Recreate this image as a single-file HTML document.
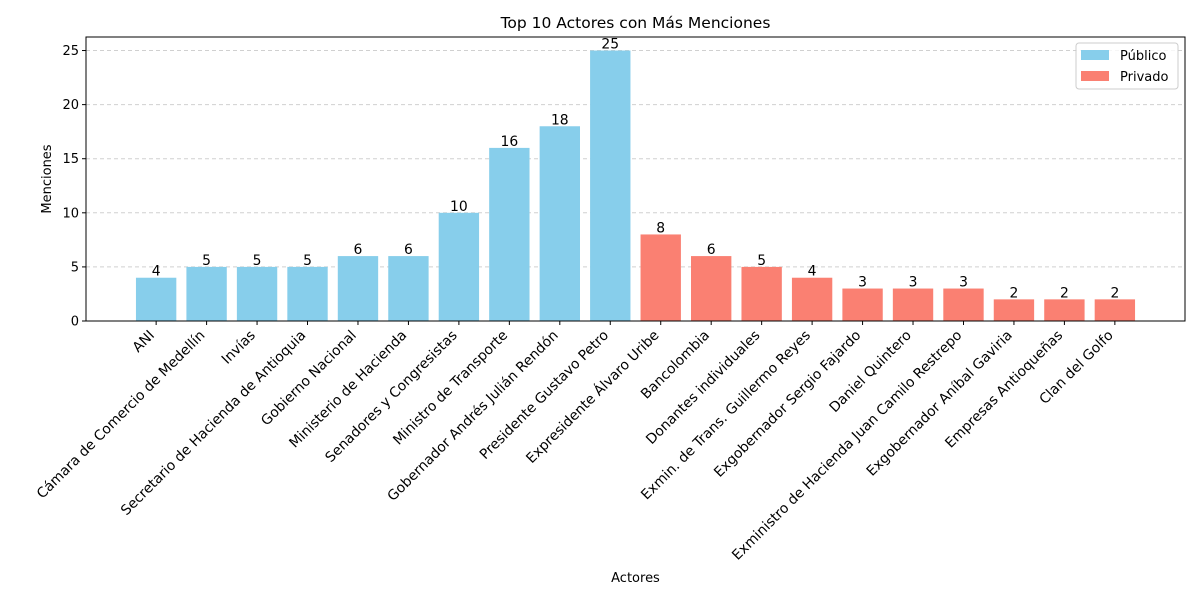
<!DOCTYPE html>
<html><head><meta charset="utf-8"><style>body{margin:0;background:#fff}svg{display:block;font-family:"DejaVu Sans","Liberation Sans",sans-serif}</style></head>
<body>
<svg id="chart" width="1200" height="600" xmlns="http://www.w3.org/2000/svg">
<rect width="1200" height="600" fill="#fff"/>
<text x="635.5" y="28" font-size="15.5" text-anchor="middle">Top 10 Actores con Más Menciones</text>
<g id="grid"></g><g id="bars"></g><g id="xt"></g><g id="yt"></g>
<rect x="86" y="37" width="1099" height="284" fill="none" stroke="#000" stroke-width="1"/>
<text transform="translate(51,179) rotate(-90)" font-size="13" text-anchor="middle">Menciones</text>
<text x="635.5" y="582" font-size="13" text-anchor="middle">Actores</text>
<g>
<rect x="1076" y="43" width="102" height="46" rx="3" fill="#fff" fill-opacity="0.8" stroke="#ccc"/>
<rect x="1081" y="50" width="28" height="10" fill="#87ceeb"/>
<text x="1120" y="60" font-size="13">Público</text>
<rect x="1081" y="71" width="28" height="10" fill="#fa8072"/>
<text x="1120" y="81" font-size="13">Privado</text>
</g>
</svg>
<script>
const categories=["ANI","Cámara de Comercio de Medellín","Invías","Secretario de Hacienda de Antioquia","Gobierno Nacional","Ministerio de Hacienda","Senadores y Congresistas","Ministro de Transporte","Gobernador Andrés Julián Rendón","Presidente Gustavo Petro","Expresidente Álvaro Uribe","Bancolombia","Donantes individuales","Exmin. de Trans. Guillermo Reyes","Exgobernador Sergio Fajardo","Daniel Quintero","Exministro de Hacienda Juan Camilo Restrepo","Exgobernador Aníbal Gaviria","Empresas Antioqueñas","Clan del Golfo"];
const values=[4,5,5,5,6,6,10,16,18,25,8,6,5,4,3,3,3,2,2,2];
const sectors=["Público","Público","Público","Público","Público","Público","Público","Público","Público","Público","Privado","Privado","Privado","Privado","Privado","Privado","Privado","Privado","Privado","Privado"];
const yTicks=[0,5,10,15,20,25];
const NS="http://www.w3.org/2000/svg";
const L=86,R=1185,T=37,B=321;
const n=categories.length;
const xmin=-0.4-0.05*(n-0.2),xmax=n-1+0.4+0.05*(n-0.2);
const x=i=>L+(i-xmin)/(xmax-xmin)*(R-L);
const ymax=25*1.05;
const y=v=>B-v/ymax*(B-T);
const bw=0.8*(R-L)/(xmax-xmin);
function mk(tag,attrs,parent,txt){const e=document.createElementNS(NS,tag);for(const k in attrs)e.setAttribute(k,attrs[k]);if(txt!==undefined)e.textContent=txt;document.getElementById(parent).appendChild(e);return e;}
yTicks.forEach(t=>{
 const g=mk('line',{x1:L,x2:R,y1:y(t),y2:y(t),stroke:'#b0b0b0','stroke-opacity':0.6,'stroke-dasharray':'4,3'},'grid');
 
 
 const tk=mk('line',{x1:L-4,x2:L,y1:y(t),y2:y(t),stroke:'#000'},'yt');
 
 
 const lb=mk('text',{x:L-7,y:y(t)+4.5,'font-size':13,'text-anchor':'end'},'yt',t);
 
 
});
categories.forEach((c,i)=>{
 const cx=x(i),v=values[i];
 const r=mk('rect',{x:cx-bw/2,y:y(v),width:bw,height:B-y(v),fill:sectors[i]==="Público"?'#87ceeb':'#fa8072'},'bars');
 
 
 const vl=mk('text',{x:cx,y:y(v)-2,'font-size':13.9,'text-anchor':'middle'},'bars',v);
 
 
 const tk=mk('line',{x1:cx,x2:cx,y1:B,y2:B+4,stroke:'#000'},'xt');
 
 
 const lb=mk('text',{transform:`translate(${cx-1},${B+15}) rotate(-45)`,'font-size':13.9,'text-anchor':'end'},'xt',c);
 
 
});
</script>
</body></html>
